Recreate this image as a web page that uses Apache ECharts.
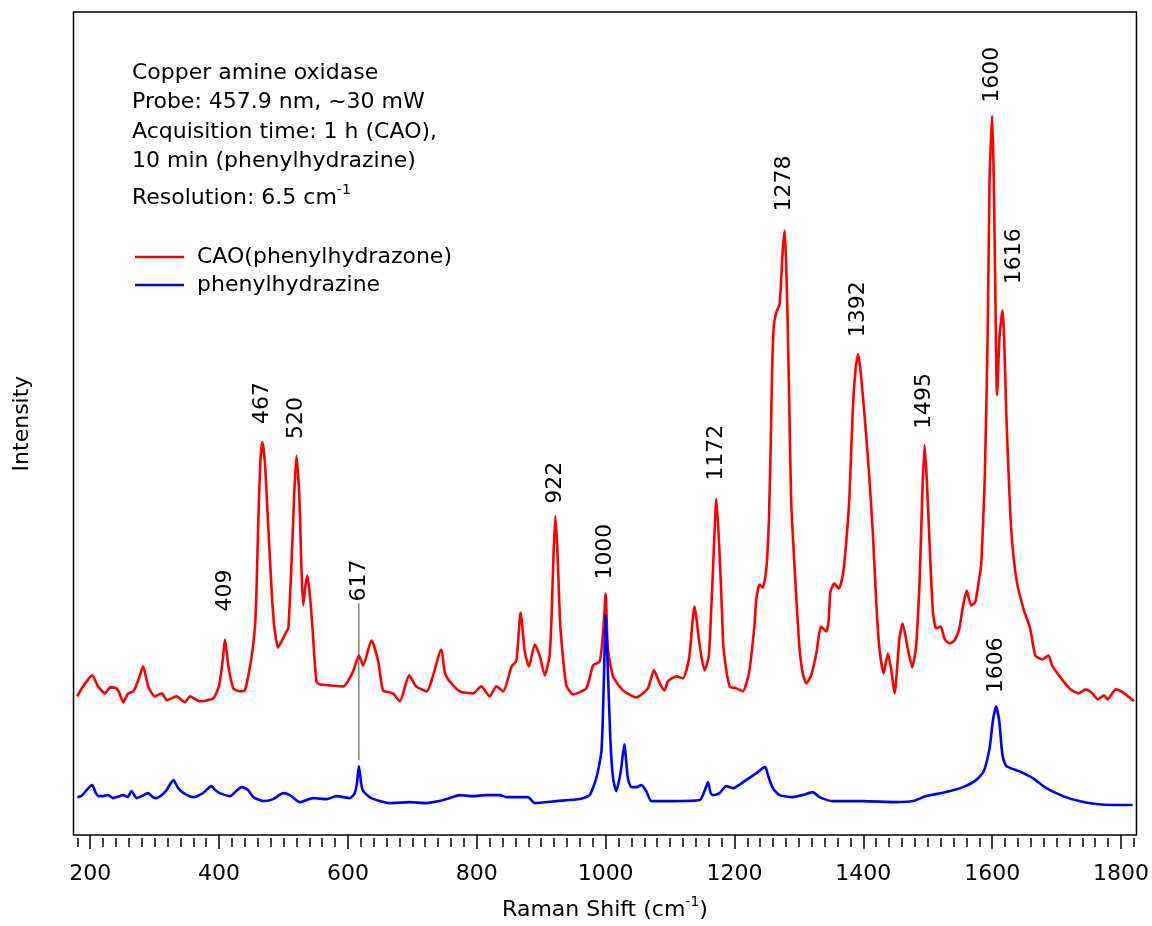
<!DOCTYPE html>
<html>
<head>
<meta charset="utf-8">
<title>Resonance Raman spectra: CAO phenylhydrazone</title>
<script src="https://cdn.jsdelivr.net/npm/echarts@6/dist/echarts.min.js"></script>
<style>
  html, body { margin: 0; padding: 0; background: #fff; }
  #chart { width: 1152px; height: 926px; }
</style>
</head>
<body>
<div id="chart"></div>
<script>
// Raman shift (cm-1) and intensity (arb. units, offset spectra) for the enzyme adduct
const caoShift = [180,189,203,212,223,231,241,246,251,259,267,275,282,290,300,311,319,334,347,355,370,391,400,406,409,415,422,432,440,450,455.5,458,460.5,464,467,471,476.5,482,486,491.5,497,504.5,507.5,512.5,516.5,520,524.5,527.5,530.5,534,537,541,545,551,556,572,593,608,617,623.5,636.5,647,654.5,670,680.5,695,706,722,745,750,755.5,773.5,794,807,820,830.5,841,854,861.5,868,874.5,881,890,897.5,905.5,913,916,919,922,925.5,929,931.5,939,949.5,970,980.5,991,997,1000,1003.5,1011.5,1027,1047.5,1065.5,1075,1084,1091.5,1096.5,1110,1120,1129.5,1138,1146,1153.5,1160,1164,1166.5,1172,1177,1181,1183,1192.5,1203,1213,1223,1231,1234,1239,1244,1249.5,1253.5,1256,1258.5,1261,1265,1270,1272.5,1275,1278,1280.5,1283,1285.5,1288,1292,1296,1301,1306,1311.5,1319,1327,1334.5,1342.5,1346,1349,1355,1362,1368,1373,1378.5,1383.5,1388,1392,1397,1404.5,1409.5,1415,1420,1425,1431.5,1438,1443,1448.5,1456,1461,1469,1476,1482,1487.5,1491.5,1495,1498.5,1503,1508,1513,1520,1526,1533.5,1541.5,1549,1554,1560.5,1567.5,1574,1580.5,1583,1585.5,1588.5,1593,1596,1600,1602.5,1605,1607.5,1611.5,1616,1618.5,1622,1625.5,1630,1638,1648.5,1659,1667,1677.5,1687.5,1693,1706,1721.5,1734.5,1745,1755.5,1764,1774,1779,1792,1805,1820];
const caoIntensity = [139,149,160,149,142,148,147,141,133,142,144,156,169,149,139,142,135,139,133,139,134,137,150,177,196,167,147,144,145,177,207,244,307,374,394,374,307,240,207,188,194,204,207,274,340,380,340,274,230,250,260,240,207,154,151,150,149,164,180,170,195,174,145,142,134,160,149,144,186,164,156,144,142,149,139,149,144,169,175,223,184,169,191,180,160,180,217,280,320,280,217,194,150,141,147,170,174,211,242,187,159,145,138,147,165,152,145,154,159,157,177,229,190,165,179,227,264,337,280,217,187,149,147,144,164,210,237,251,248,267,317,384,467,510,524,532,557,587,606,567,500,417,334,284,237,187,162,152,160,182,209,204,214,244,252,247,260,290,340,424,467,482,457,400,357,300,234,187,162,182,167,142,197,212,187,168,190,257,340,391,357,290,224,207,209,197,192,195,207,227,245,230,234,260,271,307,357,500,658,721,658,540,441,500,526,500,421,362,302,255,227,207,180,176,180,170,158,146,142,146,142,136,140,136,146,142,134];

// Free phenylhydrazine reference spectrum
const phzShift = [180,186,197,203,208,212.5,220,228,235,241,251,258,264,272,280,290,297,303,311,318.5,329,336.5,345,360,375,388,394,401,417,428,435,445,453,468.5,484,499.5,510,525,546,567,582,603,610.5,614,617,620.5,623.5,636.5,665,696,722,742,753,773.5,794,815,836,846,879.5,890,923.5,960,975,985.5,993.5,997.5,1000,1003.5,1007.5,1011.5,1016.5,1023.5,1029,1034.5,1040,1048,1055.5,1063,1071,1104.5,1146,1153.5,1159,1163,1166.5,1177,1187,1197.5,1218,1234,1244,1248,1252,1259.5,1270,1290.5,1306,1321.5,1332,1352.5,1399,1451,1477,1497.5,1528.5,1554.5,1575,1587,1596,1601,1606,1611,1616,1622,1642,1663,1684,1710,1735,1761,1787,1818];
const phzIntensity = [38,39,47,50,43,39,39,40,37,38,40,38,44,37,39,42,38,37,40,45,55,47,42,38,42,49,45,42,39,45,48,45,38,34,36,42,40,33,37,36,39,37,42,52,69,52,44,37,32,33,32,34,36,40,39,40,40,38,38,32,34,36,40,57,84,160,220,164,94,57,44,64,91,57,48,48,50,44,34,34,35,44,53,42,40,42,49,47,55,62,67,68,60,47,40,38,40,43,38,34,34,33,34,39,43,48,55,64,87,114,129,114,80,69,64,57,47,39,34,31,30,30];

// Band assignments written above the peaks
const peakValues      = [409, 467, 520, 617, 922, 1000, 1172, 1278, 1392, 1495, 1600, 1616, 1606];
const peakLabelShift  = [409, 467, 520, 617, 922, 1000, 1172, 1278, 1392, 1495, 1600, 1634, 1606];
const peakLabelHeight = [224, 412, 397, 234, 332, 256, 355, 625, 499, 407, 734, 552, 142];
// Leader from the 617 label down to the phenylhydrazine band
const leader617 = [[617, 232], [617, 75]];

const majorTicks = [200, 400, 600, 800, 1000, 1200, 1400, 1600, 1800];
const minorTicks = [];
for (let v = 180; v <= 1820; v += 20) if (v % 200 !== 0) minorTicks.push(v);

const infoLines = [
  'Copper amine oxidase',
  'Probe: 457.9 nm, ~30 mW',
  'Acquisition time: 1 h (CAO),',
  '10 min (phenylhydrazine)'
];
const seriesNames = ['CAO(phenylhydrazone)', 'phenylhydrazine'];

const FONT = 'DejaVu Sans';
const zip = (xs, ys) => xs.map((x, i) => [x, ys[i]]);
const txt = (size, extra) => Object.assign({ fontFamily: FONT, fontSize: size, color: '#000', fontWeight: 'normal' }, extra || {});

const chart = echarts.init(document.getElementById('chart'), null, { renderer: 'canvas' });

const xBase = {
  type: 'value', min: 174, max: 1824, position: 'bottom', offset: 3, gridIndex: 0,
  axisLine: { show: false },
  splitLine: { show: false }
};

chart.setOption({
  animation: false,
  backgroundColor: '#fff',
  textStyle: { fontFamily: FONT },
  grid: {
    left: 73.5, right: 15, top: 12, bottom: 89,
    show: true, borderColor: '#000', borderWidth: 1.5, backgroundColor: 'transparent'
  },
  title: [
    {
      left: 132, top: 58.25, padding: 0,
      text: infoLines.join('\n'),
      textStyle: txt(22, { lineHeight: 29.5 })
    },
    {
      left: 132, top: 183.25, padding: 0,
      text: '{a|Resolution: 6.5 cm}{s|-1}',
      textStyle: txt(22, {
        rich: {
          a: txt(22, { lineHeight: 29.5 }),
          s: txt(14, { lineHeight: 22, verticalAlign: 'top' })
        }
      })
    }
  ],
  legend: {
    left: 135, top: 246, orient: 'vertical', padding: 0,
    itemGap: 6, itemWidth: 49, itemHeight: 2.5, icon: 'rect',
    selectedMode: false,
    data: seriesNames,
    textStyle: txt(22, { lineHeight: 22, padding: [0, 0, 0, 8] })
  },
  xAxis: [
    Object.assign({}, xBase, {
      axisTick: { show: true, customValues: majorTicks, length: 14, lineStyle: { color: '#000', width: 1.5 } },
      axisLabel: Object.assign(txt(22), {
        show: true, customValues: majorTicks, margin: 25,
        formatter: (v) => String(v)
      }),
      name: '{a|Raman Shift (cm}{s|-1}{a|)}',
      nameLocation: 'middle', nameGap: 57, nameMoveOverlap: false,
      nameTextStyle: txt(22, {
        rich: {
          a: txt(22, { lineHeight: 30 }),
          s: txt(14, { lineHeight: 14, verticalAlign: 'top' })
        }
      })
    }),
    Object.assign({}, xBase, {
      axisTick: { show: true, customValues: minorTicks, length: 9, lineStyle: { color: '#000', width: 1.5 } },
      axisLabel: { show: false }
    })
  ],
  yAxis: {
    type: 'value', min: 0, max: 825,
    axisLine: { show: false }, axisTick: { show: false }, axisLabel: { show: false }, splitLine: { show: false },
    name: 'Intensity', nameLocation: 'middle', nameRotate: 90, nameGap: 40, nameMoveOverlap: false,
    nameTextStyle: txt(22)
  },
  series: [
    {
      name: seriesNames[0], type: 'line', data: zip(caoShift, caoIntensity),
      showSymbol: false, symbol: 'none', smooth: 0.2, color: '#ff0000',
      lineStyle: { color: '#ff0000', width: 2.6 }, silent: true, z: 2
    },
    {
      name: seriesNames[1], type: 'line', data: zip(phzShift, phzIntensity),
      showSymbol: false, symbol: 'none', smooth: 0.2, color: '#0000ff',
      lineStyle: { color: '#0000ff', width: 2.6 }, silent: true, z: 3
    },
    {
      name: 'leader', type: 'line', data: leader617, symbol: 'none',
      lineStyle: { color: '#444', width: 1 }, silent: true, z: 4
    },
    {
      name: 'bands', type: 'scatter', symbolSize: 0, silent: true, z: 5,
      itemStyle: { color: '#000' },
      data: peakValues.map((p, i) => ({ name: String(p), value: [peakLabelShift[i], peakLabelHeight[i]] })),
      label: Object.assign(txt(22), {
        show: true, formatter: '{b}', position: 'inside', rotate: 90,
        align: 'left', verticalAlign: 'middle', color: '#000', opacity: 1
      })
    }
  ]
});
</script>
</body>
</html>
